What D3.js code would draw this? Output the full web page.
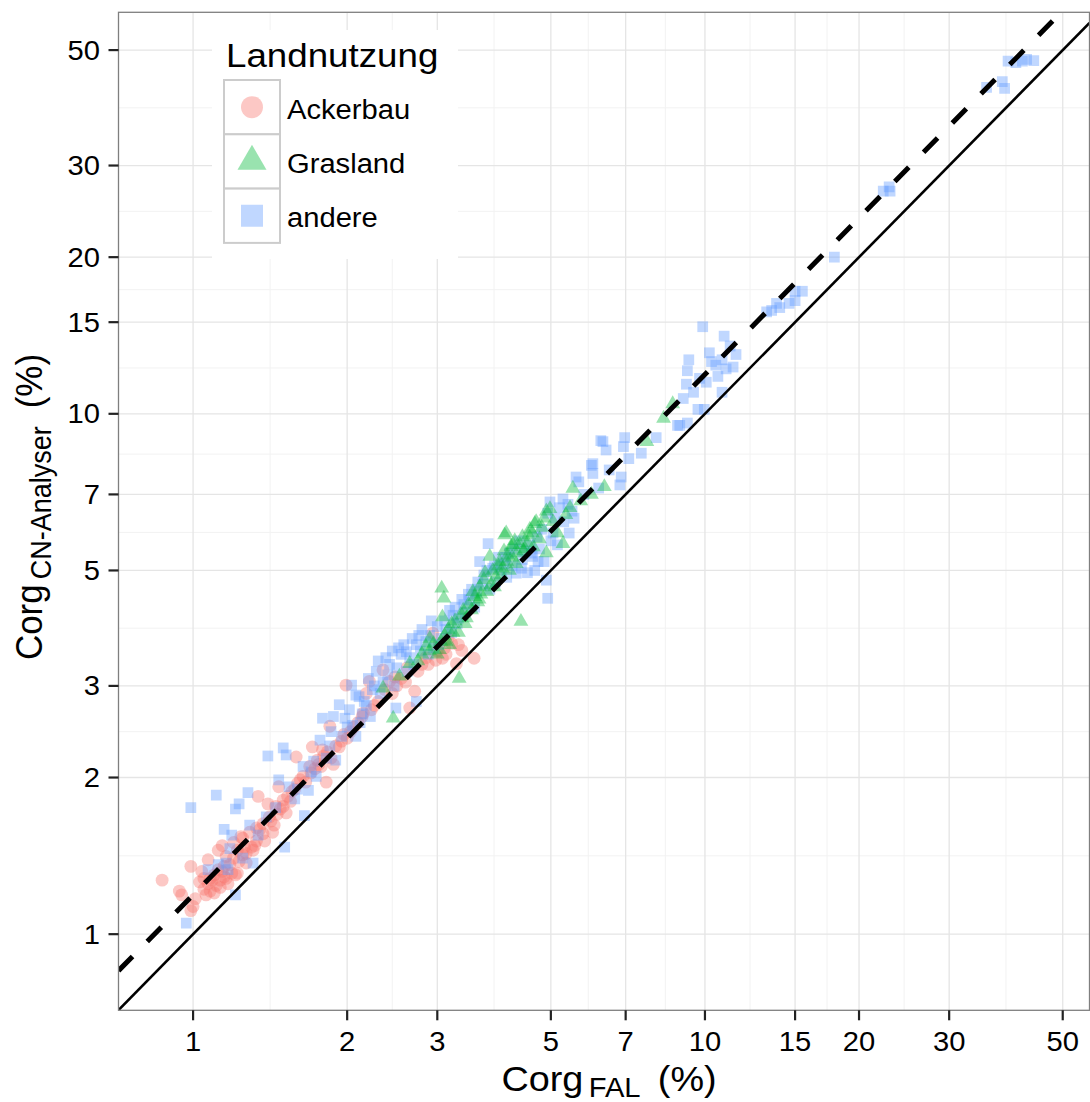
<!DOCTYPE html>
<html>
<head>
<meta charset="utf-8">
<script src="https://cdn.jsdelivr.net/npm/d3@7"></script>
<style>
body { margin: 0; background: #fff; }
svg { display: block; }
text { font-family: "Liberation Sans", Arial, sans-serif; fill: #000; }
</style>
</head>
<body>
<svg id="chart" width="1090" height="1102"></svg>
<script>
// axis breaks (same on both log axes)
var breaks = [1, 2, 3, 5, 7, 10, 15, 20, 30, 50];
var groups = ["Ackerbau", "Grasland", "andere"];
var groupColors = ["#F8766D", "#00BA38", "#619CFF"];
var lineFactor = 1.19;   // dashed line: y = 1.19 * x

// Corg FAL (x) vs Corg CN-Analyser (y)
var ackerbau = [
  [0.87,1.27],[0.94,1.21],[0.95,1.19],[0.99,1.35],[1.00,1.13],[0.99,1.11],[1.01,1.17],[1.03,1.26],[1.04,1.32],[1.05,1.22],
  [1.06,1.19],[1.07,1.39],[1.07,1.25],[1.08,1.21],[1.08,1.28],[1.09,1.27],[1.10,1.30],[1.11,1.24],[1.12,1.45],[1.12,1.33],
  [1.13,1.23],[1.13,1.27],[1.14,1.48],[1.14,1.32],[1.15,1.29],[1.16,1.28],[1.16,1.41],[1.17,1.25],[1.18,1.36],[1.19,1.31],
  [1.20,1.50],[1.21,1.30],[1.22,1.45],[1.22,1.31],[1.23,1.38],[1.24,1.54],[1.25,1.42],[1.25,1.53],[1.27,1.43],[1.27,1.37],
  [1.29,1.57],[1.30,1.47],[1.31,1.45],[1.32,1.48],[1.33,1.51],[1.34,1.84],[1.35,1.59],[1.37,1.56],[1.37,1.63],[1.38,1.51],
  [1.40,1.78],[1.41,1.68],[1.43,1.57],[1.44,1.62],[1.45,1.76],[1.46,1.70],[1.47,1.92],[1.48,1.74],[1.50,1.81],[1.52,1.71],
  [1.53,1.84],[1.55,1.80],[1.56,1.88],[1.58,1.90],[1.59,2.19],[1.60,1.95],[1.62,1.98],[1.64,2.01],[1.66,1.96],[1.69,2.10],
  [1.70,2.04],[1.71,2.29],[1.73,2.08],[1.75,2.16],[1.76,2.12],[1.78,2.10],[1.79,2.26],[1.80,2.20],[1.82,1.96],[1.83,2.24],
  [1.85,2.51],[1.86,2.18],[1.88,2.12],[1.90,2.30],[1.93,2.29],[1.95,2.35],[1.97,2.42],[1.99,3.01],[2.00,2.38],[2.03,2.45],
  [2.06,2.50],[2.10,2.55],[2.14,2.62],[2.18,2.90],[2.21,3.06],[2.23,2.70],[2.26,2.75],[2.30,2.80],[2.35,3.22],[2.37,2.95],
  [2.42,3.06],[2.45,2.90],[2.50,3.00],[2.55,3.10],[2.60,3.05],[2.65,2.72],[2.71,2.93],[2.75,3.20],[2.80,3.30],[2.85,3.40],
  [2.94,3.79],[2.98,3.36],[3.00,3.50],[3.03,3.62],[3.07,3.39],[3.10,3.55],[3.15,3.70],[3.27,3.31],[3.30,3.60],[3.35,3.51],
  [3.54,3.39],[1.05,1.28],[1.10,1.20],[1.15,1.35],[1.20,1.40],[1.26,1.47],[1.33,1.60],[1.42,1.65],[1.50,1.76],[2.15,2.66],
  [2.48,3.12],[2.62,3.25],[2.88,3.30],[3.12,3.45],[3.20,3.62]
];
var grasland = [
  [2.35,2.97],[2.46,2.60],[2.53,3.13],[2.65,3.31],[2.75,3.35],[2.80,3.45],[2.85,3.57],[2.90,3.50],[2.95,3.62],[3.00,3.45],
  [3.03,3.52],[3.06,4.62],[3.09,4.42],[3.07,4.07],[3.10,3.75],[3.12,3.65],[3.15,3.85],[3.17,3.60],[3.20,3.95],[3.25,4.00],
  [3.31,3.10],[3.30,3.80],[3.35,4.10],[3.37,4.19],[3.40,3.95],[3.45,4.30],[3.50,4.20],[3.55,4.45],[3.60,4.35],[3.63,4.65],
  [3.65,4.50],[3.70,4.80],[3.75,4.55],[3.80,5.32],[3.82,4.70],[3.85,5.00],[3.90,4.85],[3.95,5.10],[3.97,5.20],[4.00,4.90],
  [4.05,5.45],[4.06,5.85],[4.09,5.90],[4.10,5.20],[4.15,5.00],[4.18,5.56],[4.20,5.30],[4.22,5.60],[4.25,5.70],[4.30,5.40],
  [4.35,5.60],[4.37,3.99],[4.40,5.80],[4.45,5.50],[4.50,5.65],[4.55,6.00],[4.60,5.90],[4.65,6.15],[4.68,6.20],[4.75,5.75],
  [4.80,6.05],[4.90,5.40],[4.90,6.50],[4.98,6.57],[5.05,6.20],[5.15,5.90],[5.28,5.63],[5.35,6.40],[5.52,7.19],[5.72,6.80],
  [6.00,7.00],[6.36,7.24],[7.70,8.84],[8.30,9.80],[8.65,10.45],[3.42,4.05],[3.52,4.55],[3.62,4.40],[3.72,4.95],[3.88,4.65],
  [4.02,5.05],[4.12,5.35],[4.28,5.15],[4.42,5.45],[4.52,5.85],[4.62,5.55],[4.85,6.30],[2.90,3.70],[3.05,3.65],[3.22,3.80],
  [5.45,6.60]
];
var andere = [
  [0.97,1.05],[0.99,1.75],[1.07,1.33],[1.11,1.85],[1.15,1.59],[1.16,1.37],[1.17,1.33],[1.19,1.55],[1.21,1.19],[1.21,1.74],
  [1.23,1.78],[1.28,1.87],[1.29,1.62],[1.31,1.37],[1.39,1.68],[1.40,2.20],[1.47,1.98],[1.50,2.28],[1.51,1.47],[1.52,2.21],
  [1.54,1.92],[1.60,1.90],[1.64,2.10],[1.65,1.69],[1.68,1.89],[1.70,2.05],[1.74,2.01],[1.77,2.36],[1.79,2.60],[1.82,2.18],
  [1.85,2.30],[1.88,2.62],[1.90,2.16],[1.93,2.76],[1.95,2.40],[2.00,2.50],[2.02,2.70],[2.04,3.01],[2.05,2.52],[2.08,2.40],
  [2.08,2.88],[2.11,2.86],[2.14,2.65],[2.18,2.75],[2.20,3.10],[2.24,2.95],[2.28,3.20],[2.30,3.35],[2.35,3.05],[2.38,3.40],
  [2.42,3.30],[2.45,3.50],[2.49,2.72],[2.50,3.25],[2.55,3.45],[2.58,3.60],[2.61,3.49],[2.65,3.40],[2.68,3.70],[2.73,2.80],
  [2.73,3.60],[2.78,3.50],[2.80,3.85],[2.85,3.65],[2.90,3.75],[2.95,3.55],[3.00,3.90],[3.05,3.70],[3.10,4.00],[3.17,4.19],
  [3.20,3.80],[3.25,4.25],[3.30,4.05],[3.35,4.40],[3.40,4.15],[3.47,4.39],[3.50,4.60],[3.55,4.25],[3.60,4.75],[3.63,5.20],
  [3.70,4.90],[3.77,5.63],[3.80,4.60],[3.85,5.05],[3.90,4.75],[3.95,5.30],[4.00,5.00],[4.05,5.15],[4.10,4.85],[4.15,5.40],
  [4.20,5.10],[4.28,4.94],[4.34,5.70],[4.40,5.25],[4.45,5.45],[4.50,4.95],[4.55,5.60],[4.61,5.32],[4.65,5.00],[4.70,5.80],
  [4.75,5.50],[4.80,6.00],[4.85,5.20],[4.90,4.79],[4.93,4.42],[4.93,6.44],[4.98,6.77],[5.05,5.90],[5.10,6.30],[5.15,5.60],
  [5.28,6.86],[5.30,6.20],[5.43,5.90],[5.50,6.50],[5.60,7.56],[5.67,7.40],[5.80,7.00],[6.00,7.96],[6.04,7.68],[6.04,8.02],
  [6.20,7.20],[6.26,8.88],[6.32,8.84],[6.41,8.52],[6.50,7.80],[6.82,7.30],[6.86,7.56],[6.93,8.65],[6.97,9.00],[7.10,8.20],
  [7.51,8.40],[8.03,9.00],[8.84,9.50],[8.93,9.50],[9.07,10.7],[9.20,11.4],[9.24,9.60],[9.24,12.1],[9.30,12.7],[9.50,11.0],
  [9.69,10.2],[9.76,11.7],[9.90,14.7],[9.97,10.2],[10.06,11.5],[10.2,13.1],[10.3,12.6],[10.5,12.4],[10.6,11.8],[10.8,11.0],
  [10.8,12.7],[10.9,14.1],[11.0,12.2],[11.2,13.5],[11.35,12.3],[11.5,13.0],[13.2,15.7],[13.5,15.8],[13.8,16.3],[14.0,16.0],
  [14.6,16.3],[15.0,16.5],[15.0,17.2],[15.5,17.2],[17.9,20.0],[22.3,26.8],[22.9,27.3],[23.0,26.8],[35.5,42.4],[38.1,43.5],
  [38.5,42.2],[39.1,47.6],[40.5,47.3],[41.7,47.6],[42.5,48.0],[43.9,47.7],
  [2.12,2.55],[2.16,2.80],[2.22,2.62],[2.26,3.00],[2.32,2.90],[2.40,3.15],[2.47,3.00],[2.52,3.55],[2.62,3.20],[2.70,3.30],
  [2.76,3.75],[2.88,3.45],[2.92,4.00],[3.02,3.60],[3.12,3.85],[3.22,4.10],[3.28,3.95],[3.38,4.30],[3.45,4.50],[3.58,4.55],
  [3.68,4.70],[3.75,5.00],[3.88,5.10],[4.08,5.30],[4.25,5.50],[4.38,5.05],[4.58,5.40],[4.72,5.20],[5.00,5.70],[5.20,6.60],
  [5.40,6.70],[5.55,6.30],[1.34,1.55],[1.45,1.75],[1.58,1.82],[1.72,2.15],[1.86,2.45],[1.98,2.60],[1.25,1.40],[1.12,1.36],
  [1.18,1.46]
];

var svg = d3.select("#chart");
var SX = 1.08; // text in the picture is a bit wider than plain Arial

var pLeft = 118.5, pRight = 1089.5, pTop = 12.3, pBottom = 1010.3;
var x = d3.scaleLog().domain([0.715, 56.4]).range([pLeft, pRight]);
var y = d3.scaleLog().domain([0.714, 59.1]).range([pBottom, pTop]);

var minor = d3.range(breaks.length - 1).map(function(i) { return Math.sqrt(breaks[i] * breaks[i + 1]); });

function addText(parent, px, py, size, anchor, rotate) {
  return parent.append("text")
    .attr("transform", "translate(" + px + "," + py + ") scale(" + SX + ",1)" + (rotate ? " rotate(-90)" : ""))
    .attr("font-size", size)
    .attr("text-anchor", anchor || "start");
}

// grid
var grid = svg.append("g");
grid.selectAll("line.mx").data(minor).enter().append("line")
  .attr("x1", d => x(d)).attr("x2", d => x(d)).attr("y1", pTop).attr("y2", pBottom)
  .attr("stroke", "#f2f2f2").attr("stroke-width", 1);
grid.selectAll("line.my").data(minor).enter().append("line")
  .attr("y1", d => y(d)).attr("y2", d => y(d)).attr("x1", pLeft).attr("x2", pRight)
  .attr("stroke", "#f2f2f2").attr("stroke-width", 1);
grid.selectAll("line.gx").data(breaks).enter().append("line")
  .attr("x1", d => x(d)).attr("x2", d => x(d)).attr("y1", pTop).attr("y2", pBottom)
  .attr("stroke", "#e5e5e5").attr("stroke-width", 1.3);
grid.selectAll("line.gy").data(breaks).enter().append("line")
  .attr("y1", d => y(d)).attr("y2", d => y(d)).attr("x1", pLeft).attr("x2", pRight)
  .attr("stroke", "#e5e5e5").attr("stroke-width", 1.3);

svg.append("clipPath").attr("id", "panel").append("rect")
  .attr("x", pLeft).attr("y", pTop).attr("width", pRight - pLeft).attr("height", pBottom - pTop);

var plot = svg.append("g").attr("clip-path", "url(#panel)");

var shapes = [d3.symbolCircle, d3.symbolTriangle, d3.symbolSquare];
var sizes = [130, 95, 115];
var legendSizes = [380, 364, 484];

[ackerbau, andere, grasland].forEach(function(arr) {
  var gi = arr === ackerbau ? 0 : (arr === grasland ? 1 : 2);
  plot.append("g").selectAll("path").data(arr).enter().append("path")
    .attr("transform", d => "translate(" + x(d[0]) + "," + y(d[1]) + ")")
    .attr("d", d3.symbol().type(shapes[gi]).size(sizes[gi]))
    .attr("fill", groupColors[gi]).attr("fill-opacity", 0.4);
});

// 1:1 line and fitted dashed line
var xd = x.domain();
plot.append("line")
  .attr("x1", x(xd[0])).attr("y1", y(xd[0])).attr("x2", x(xd[1])).attr("y2", y(xd[1]))
  .attr("stroke", "#000").attr("stroke-width", 2.6);
plot.append("line")
  .attr("x1", x(xd[0])).attr("y1", y(xd[0] * lineFactor)).attr("x2", x(xd[1])).attr("y2", y(xd[1] * lineFactor))
  .attr("stroke", "#000").attr("stroke-width", 5).attr("stroke-dasharray", "20,21");

// panel border
svg.append("rect").attr("x", pLeft).attr("y", pTop).attr("width", pRight - pLeft).attr("height", pBottom - pTop)
  .attr("fill", "none").attr("stroke", "#7f7f7f").attr("stroke-width", 1.3);

// ticks and labels
svg.selectAll("line.tx").data(breaks).enter().append("line")
  .attr("x1", d => x(d)).attr("x2", d => x(d)).attr("y1", pBottom).attr("y2", pBottom + 10)
  .attr("stroke", "#222").attr("stroke-width", 2.2);
svg.selectAll("line.ty").data(breaks).enter().append("line")
  .attr("y1", d => y(d)).attr("y2", d => y(d)).attr("x1", pLeft - 10).attr("x2", pLeft)
  .attr("stroke", "#222").attr("stroke-width", 2.2);
breaks.forEach(function(b) {
  addText(svg, x(b), 1051, 27, "middle").text(b);
  addText(svg, 100, y(b) + 9.6, 27, "end").text(b);
});

// axis titles
var xt = addText(svg, 609, 1091, 35, "middle");
xt.append("tspan").text("Corg");
xt.append("tspan").attr("dx", 5).attr("dy", 6).attr("font-size", 27).text("FAL");
xt.append("tspan").attr("dx", 16).attr("dy", -6).text("(%)");

var yt = addText(svg, 42, 507, 35, "middle", true);
yt.append("tspan").text("Corg");
yt.append("tspan").attr("dx", 5).attr("dy", 8).attr("font-size", 27).text("CN-Analyser");
yt.append("tspan").attr("dx", 18).attr("dy", -8).text("(%)");

// legend
var lg = svg.append("g");
lg.append("rect").attr("x", 212).attr("y", 30).attr("width", 246).attr("height", 229).attr("fill", "#fff");
addText(lg, 226, 67, 34, "start").text("Landnutzung");
var keyH = 54.3;
groups.forEach(function(name, i) {
  var cy = 80 + keyH * i + keyH / 2;
  lg.append("rect").attr("x", 224).attr("y", 80 + keyH * i).attr("width", 56).attr("height", keyH)
    .attr("fill", "#fff").attr("stroke", "#cccccc").attr("stroke-width", 2);
  lg.append("path").attr("transform", "translate(252," + cy + ")")
    .attr("d", d3.symbol().type(shapes[i]).size(legendSizes[i]))
    .attr("fill", groupColors[i]).attr("fill-opacity", 0.4);
  addText(lg, 287, cy + 11.5, 27, "start").text(name);
});
</script>
</body>
</html>
